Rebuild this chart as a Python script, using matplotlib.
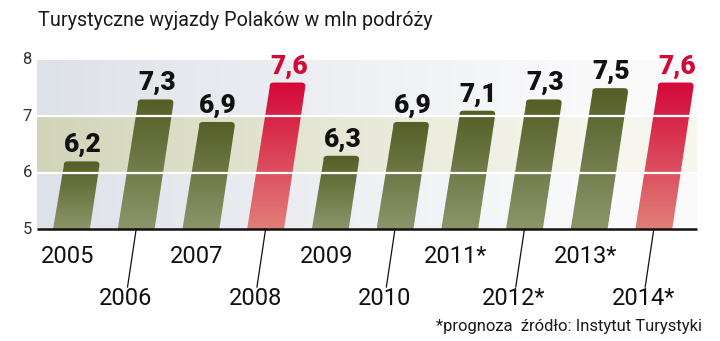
import numpy as np
import matplotlib.pyplot as plt
from matplotlib.path import Path
from matplotlib.patches import PathPatch

years = ["2005", "2006", "2007", "2008", "2009", "2010", "2011*", "2012*", "2013*", "2014*"]
values = [6.2, 7.3, 6.9, 7.6, 6.3, 6.9, 7.1, 7.3, 7.5, 7.6]
labels = ["6,2", "7,3", "6,9", "7,6", "6,3", "6,9", "7,1", "7,3", "7,5", "7,6"]
highlight = [False, False, False, True, False, False, False, False, False, True]
yticks = [5, 6, 7, 8]

title = "Turystyczne wyjazdy Polaków w mln podróży"
note = "*prognoza  źródło: Instytut Turystyki"

FONT = ["Roboto", "DejaVu Sans"]
BASE = 5.0
SLANT = 0.13      # x shift per unit of height
BAR_W = 0.57
XLIM = (-0.533, 9.667)
YLIM = (5, 8)

olive_top, olive_bot = np.array([84, 94, 37]) / 255, np.array([140, 149, 106]) / 255
red_top, red_bot = np.array([212, 8, 58]) / 255, np.array([226, 126, 120]) / 255
red_text = "#d20a3a"


def bar_path(xc, v, w=BAR_W, k=SLANT, rx=0.07, ry=0.08):
    h = v - BASE
    x_bl, x_br = xc - w / 2, xc + w / 2
    x_tl, x_tr = x_bl + k * h, x_br + k * h
    verts = [
        (x_bl, BASE), (x_br, BASE),
        (x_tr - k * ry, v - ry), (x_tr, v), (x_tr - rx, v),
        (x_tl + rx, v), (x_tl, v), (x_tl + k * ry, v - ry),
        (x_bl, BASE),
    ]
    codes = [Path.MOVETO, Path.LINETO,
             Path.LINETO, Path.CURVE3, Path.CURVE3,
             Path.LINETO, Path.CURVE3, Path.CURVE3,
             Path.CLOSEPOLY]
    return Path(verts, codes)


fig = plt.figure(figsize=(7.2, 3.41), dpi=100)
ax = fig.add_axes([37 / 720, 1 - 229 / 341, 660 / 720, 169 / 341])
ax.set_xlim(*XLIM)
ax.set_ylim(*YLIM)
ax.axis("off")

# background: bands fading to white towards the right
ny, nx = 300, 200
yy = np.linspace(YLIM[1], YLIM[0], ny)
fade = np.clip(np.linspace(0, 1, nx) / 0.85, 0, 1) ** 0.9
gray = np.array([221, 225, 232]) / 255
olive = np.array([209, 212, 184]) / 255
white_g = np.array([250, 250, 251]) / 255
white_o = np.array([246, 246, 238]) / 255
bg = np.zeros((ny, nx, 3))
for i, yv in enumerate(yy):
    if 6 <= yv <= 7:
        c0, c1 = olive, white_o
    else:
        c0, c1 = gray, white_g
    bg[i] = c0[None, :] * (1 - fade[:, None]) + c1[None, :] * fade[:, None]
ax.imshow(bg, extent=[XLIM[0], XLIM[1], YLIM[0], YLIM[1]], aspect="auto",
          interpolation="bilinear", zorder=0)

# slanted bars with vertical gradient
for i, (v, lab, hi) in enumerate(zip(values, labels, highlight)):
    top, bot = (red_top, red_bot) if hi else (olive_top, olive_bot)
    grad = np.linspace(0, 1, 100)[:, None, None]
    img = top * (1 - grad) + bot * grad
    path = bar_path(i, v)
    patch = PathPatch(path, facecolor="none", edgecolor="none")
    ax.add_patch(patch)
    x0 = i - BAR_W / 2
    x1 = i + BAR_W / 2 + SLANT * (v - BASE)
    im = ax.imshow(img, extent=[x0, x1, BASE, v], aspect="auto",
                   interpolation="bilinear", zorder=2)
    im.set_clip_path(patch)
    xc_top = i + SLANT * (v - BASE)
    ax.text(xc_top + 0.02, v + 0.07, lab, ha="center", va="bottom",
            fontsize=19, fontweight="black", family=FONT,
            color=red_text if hi else "#111111", zorder=4)

ax.set_xlim(*XLIM)
ax.set_ylim(*YLIM)

# white grid lines over the bars
for g in (6, 7):
    ax.plot(XLIM, [g, g], color="white", lw=1.6, zorder=3, solid_capstyle="butt")

# baseline
ax.plot([XLIM[0], XLIM[1] + 0.005], [BASE, BASE], color="#111111", lw=1.8,
        zorder=4, clip_on=False, solid_capstyle="butt")

# y tick labels
for t in yticks:
    ax.text(XLIM[0] - 0.08, t, str(t), ha="right", va="center", fontsize=12,
            family=FONT, color="#333333", clip_on=False)

# year labels: odd years high, even years low with leader lines
for i, y in enumerate(years):
    if i % 2 == 0:
        ly = 4.52
        ax.text(i + SLANT * (ly - BASE), ly, y, ha="center", va="center",
                fontsize=17, family=FONT, color="#111111", clip_on=False)
    else:
        end = 3.97
        ax.plot([i, i + SLANT * (end - BASE)], [BASE, end], color="#111111",
                lw=0.9, clip_on=False, zorder=4)
        ly = 3.76
        ax.text(i + SLANT * (ly - BASE), ly, y, ha="center", va="center",
                fontsize=17, family=FONT, color="#111111", clip_on=False)

fig.text(38 / 720, 1 - 20 / 341, title, ha="left", va="center", fontsize=14.2,
         family=FONT, color="#1a1a1a")
fig.text(702 / 720, 1 - 327 / 341, note, ha="right", va="center", fontsize=12,
         family=FONT, color="#1a1a1a")

fig.savefig("out.png", dpi=100)
